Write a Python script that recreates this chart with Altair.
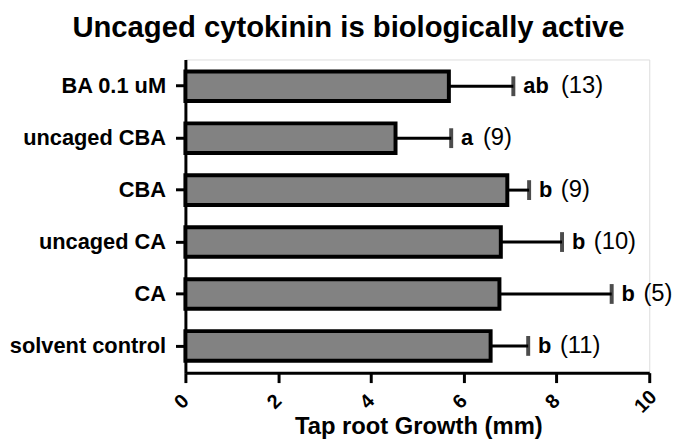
import altair as alt
import pandas as pd

categories = ["BA 0.1 uM", "uncaged CBA", "CBA", "uncaged CA", "CA", "solvent control"]
means = [5.68, 4.53, 6.94, 6.80, 6.77, 6.58]
sems = [1.39, 1.20, 0.47, 1.32, 2.42, 0.81]
letters = ["ab", "a", "b", "b", "b", "b"]
ns = [13, 9, 9, 10, 5, 11]
x_ticks = [0, 2, 4, 6, 8, 10]

df = pd.DataFrame({
    "group": categories,
    "mean": means,
    "sem": sems,
    "letter": letters,
    "n": ns,
})
df["hi"] = df["mean"] + df["sem"]
df["ntext"] = ["(" + str(v) + ")" for v in ns]
df["llen"] = [len(s) for s in letters]

FONT = "Liberation Sans"

yenc = alt.Y(
    "group:N",
    sort=categories,
    title=None,
    scale=alt.Scale(paddingInner=0.43, paddingOuter=0.23),
    axis=alt.Axis(
        labelFont=FONT, labelFontSize=22, labelFontWeight="bold", labelColor="black",
        labelPadding=10, tickSize=10, tickWidth=3, tickColor="black",
        domainColor="black", domainWidth=3, labelLimit=300,
    ),
)

xscale = alt.Scale(domain=[0, 10], nice=False)
xaxis = alt.Axis(
    values=x_ticks, labelAngle=315, labelAlign="center", labelBaseline="middle",
    labelOffset=-4, labelPadding=19,
    labelFont=FONT, labelFontSize=20, labelFontWeight="bold",
    labelColor="black", tickSize=10, tickWidth=3, tickColor="black", domainColor="black",
    domainWidth=3, grid=False, title="Tap root Growth (mm)", titleFont=FONT, titleFontSize=24,
    titleFontWeight="bold", titleColor="black", titleX=235, titleY=61,
    titleBaseline="alphabetic",
)

base = alt.Chart(df)
ysimple = alt.Y("group:N", sort=categories)

bars = base.mark_bar(fill="#828282", stroke="black", strokeWidth=4).encode(
    x=alt.X("mean:Q", scale=xscale, axis=xaxis),
    y=yenc,
)

err = base.mark_rule(color="black", strokeWidth=3).encode(
    x="mean:Q", x2="hi:Q", y=ysimple,
)

caps = base.mark_tick(color="black", thickness=4, size=20, orient="vertical").encode(
    x="hi:Q", y=ysimple,
)

lett = base.mark_text(align="left", baseline="middle", dx=10, font=FONT, fontSize=22,
                      fontWeight="bold", color="black").encode(
    x="hi:Q", y=ysimple, text="letter:N",
)

n1 = base.transform_filter("datum.llen == 1").mark_text(
    align="left", baseline="middle", dx=32, font=FONT, fontSize=24, color="black").encode(
    x="hi:Q", y=ysimple, text="ntext:N",
)
n2 = base.transform_filter("datum.llen == 2").mark_text(
    align="left", baseline="middle", dx=48, font=FONT, fontSize=24, color="black").encode(
    x="hi:Q", y=ysimple, text="ntext:N",
)

chart = alt.layer(bars, err, caps, lett, n1, n2).properties(
    width=468,
    height=316,
    autosize=alt.AutoSizeParams(type="none"),
    padding={"left": 179, "top": 50, "right": 28, "bottom": 66},
    title=alt.TitleParams(
        "Uncaged cytokinin is biologically active", font=FONT, fontSize=29.5,
        fontWeight="bold", color="black", anchor="start", frame="group", dx=-114, offset=16,
    ),
).configure_view(stroke=None).configure(background="white")

chart.save("out.html", embed_options={"renderer": "svg", "actions": False})
